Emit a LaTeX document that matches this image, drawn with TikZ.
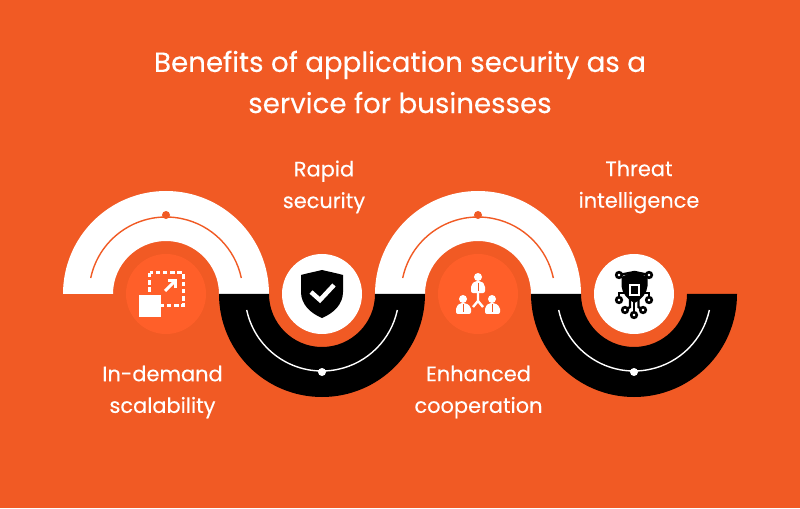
\documentclass[tikz,border=0pt]{standalone}
\usepackage{fontspec}
\setmainfont{Poppins}
\newfontfamily\headfont[FakeBold=0.25]{Poppins}
\definecolor{bgorange}{HTML}{F15A24}
\definecolor{diskorange}{HTML}{FF5F29}
\tikzset{
  titletext/.style={text=white,align=center,font=\headfont\fontsize{7.88}{11.7}\selectfont},
  labeltext/.style={text=white,align=center,font=\headfont\fontsize{5.95}{9.0}\selectfont},
  thinline/.style={line width=0.014cm},
  iconring/.style={draw=black,fill=white,line width=0.026cm},
  iconwire/.style={draw=black,line width=0.024cm},
  teamwire/.style={draw=white,line width=0.024cm},
  teamtie/.style={draw=bgorange,line width=0.008cm}
}
\begin{document}
\begin{tikzpicture}
    \useasboundingbox (0,0) rectangle (8.00,5.08);
    \fill [bgorange] (0,0) rectangle (8.00,5.08);

    % Drawing the two white bands
    \fill [white] (0.63,2.14) arc (180:0:1.03) -- (2.19,2.14) arc (0:180:0.53) -- cycle;
    \fill [white] (3.75,2.14) arc (180:0:1.03) -- (5.31,2.14) arc (0:180:0.53) -- cycle;

    % Drawing the two black bands
    \fill [black] (2.19,2.14) arc (180:360:1.03) -- (3.75,2.14) arc (360:180:0.53) -- cycle;
    \fill [black] (5.31,2.14) arc (180:360:1.03) -- (6.87,2.14) arc (360:180:0.53) -- cycle;

    % Drawing the thin arcs and their dots
    \draw [thinline,bgorange] (0.907,2.30) arc (168:12:0.77);
    \fill [bgorange] (1.66,2.93) circle (0.04);
    \draw [thinline,white] (2.467,1.98) arc (192:348:0.77);
    \fill [white] (3.22,1.36) circle (0.04);
    \draw [thinline,bgorange] (4.027,2.30) arc (168:12:0.77);
    \fill [bgorange] (4.78,2.93) circle (0.04);
    \draw [thinline,white] (5.587,1.98) arc (192:348:0.77);
    \fill [white] (6.34,1.36) circle (0.04);

    % Drawing the disks
    \fill [diskorange] (1.66,2.14) circle (0.40);
    \fill [white] (3.22,2.14) circle (0.40);
    \fill [diskorange] (4.78,2.14) circle (0.40);
    \fill [white] (6.34,2.14) circle (0.40);

    % Scaling icon
    \draw [white,line width=0.03cm,dash pattern=on 0.045cm off 0.027cm] (1.495,2.35) rectangle (1.83,2.02);
    \fill [white] (1.39,2.13) rectangle (1.61,1.91);
    \draw [white,line width=0.03cm] (1.65,2.17) -- (1.75,2.27);
    \draw [white,line width=0.03cm] (1.68,2.27) -- (1.75,2.27) -- (1.75,2.20);

    % Shield icon
    \fill [black] (3.22,2.38) .. controls (3.30,2.36) and (3.36,2.35) .. (3.43,2.33) -- (3.43,2.16) .. controls (3.43,2.04) and (3.34,1.95) .. (3.22,1.90) .. controls (3.10,1.95) and (3.01,2.04) .. (3.01,2.16) -- (3.01,2.33) .. controls (3.08,2.35) and (3.14,2.36) .. (3.22,2.38) -- cycle;
    \draw [white,line width=0.045cm] (3.11,2.16) -- (3.20,2.08) -- (3.34,2.23);

    % Team icon
    \draw [teamwire] (4.78,2.15) -- (4.78,2.07) -- (4.73,2.01);
    \draw [teamwire] (4.78,2.07) -- (4.83,2.01);
    \fill [white] (4.78,2.31) circle (0.04);
    \fill [white,rounded corners=0.02cm] (4.71,2.15) -- (4.71,2.23) -- (4.75,2.27) -- (4.81,2.27) -- (4.85,2.23) -- (4.85,2.15) -- cycle;
    \fill [white] (4.63,2.09) circle (0.04);
    \fill [white,rounded corners=0.02cm] (4.56,1.94) -- (4.56,2.01) -- (4.60,2.05) -- (4.66,2.05) -- (4.71,2.01) -- (4.71,1.94) -- cycle;
    \fill [white] (4.92,2.09) circle (0.04);
    \fill [white,rounded corners=0.02cm] (4.85,1.94) -- (4.85,2.01) -- (4.89,2.05) -- (4.95,2.05) -- (5.00,2.01) -- (5.00,1.94) -- cycle;
    \draw [teamtie] (4.78,2.25) -- (4.78,2.17);
    \draw [teamtie] (4.63,2.04) -- (4.63,1.96);
    \draw [teamtie] (4.92,2.04) -- (4.92,1.96);

    % Threat icon
    \draw [iconwire] (6.19,2.33) -- (6.345,2.36) -- (6.49,2.33);
    \draw [iconwire] (6.19,2.08) -- (6.19,2.15) -- (6.25,2.15);
    \draw [iconwire] (6.49,2.08) -- (6.49,2.15) -- (6.44,2.15);
    \draw [iconwire] (6.25,1.98) -- (6.30,2.01) -- (6.30,2.10);
    \draw [iconwire] (6.43,1.98) -- (6.385,2.01) -- (6.385,2.10);
    \draw [iconwire] (6.34,1.93) -- (6.34,2.10);
    \fill [black] (6.345,2.37) -- (6.475,2.31) -- (6.475,2.22) .. controls (6.47,2.15) and (6.42,2.09) .. (6.345,2.05) .. controls (6.27,2.09) and (6.22,2.15) .. (6.215,2.22) -- (6.215,2.31) -- cycle;
    \fill [white] (6.29,2.24) rectangle (6.40,2.12);
    \fill [black] (6.31,2.22) rectangle (6.38,2.14);
    \draw [iconring] (6.19,2.33) circle (0.028);
    \draw [iconring] (6.49,2.33) circle (0.028);
    \draw [iconring] (6.19,2.08) circle (0.028);
    \draw [iconring] (6.49,2.08) circle (0.028);
    \draw [iconring] (6.25,1.98) circle (0.028);
    \draw [iconring] (6.43,1.98) circle (0.028);
    \draw [iconring] (6.34,1.93) circle (0.028);

    % Writing the title and the labels
    \node [titletext] (title) at (4.00,4.26) {Benefits of application security as a\\service for businesses};
    \node [labeltext] (rapid) at (3.24,3.21) {Rapid\\security};
    \node [labeltext] (threat) at (6.39,3.21) {Threat\\intelligence};
    \node [labeltext] (demand) at (1.625,1.16) {In-demand\\scalability};
    \node [labeltext] (cooperation) at (4.785,1.16) {Enhanced\\cooperation};
\end{tikzpicture}
\end{document}
